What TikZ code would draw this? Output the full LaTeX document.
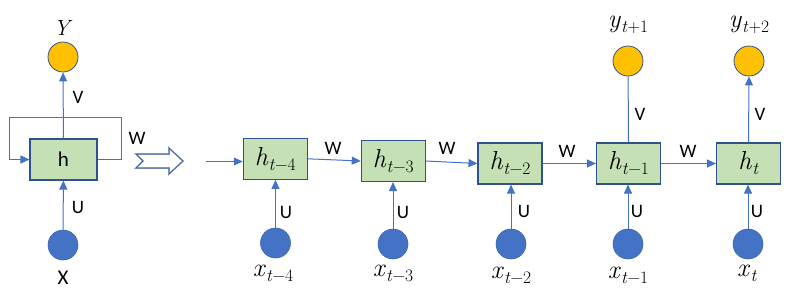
\documentclass[tikz,border=0pt]{standalone}
\usepackage{fontspec}
\newfontfamily\calib{Carlito}
\usetikzlibrary{arrows.meta}
\definecolor{boxfill}{HTML}{C5E0B4}
\definecolor{boxline}{HTML}{2F528F}
\definecolor{arr}{HTML}{4472C4}
\definecolor{orng}{HTML}{FFC000}
\definecolor{hollow}{HTML}{8EA2C8}
\newcommand{\sv}[3]{\textit{#1}\kern0.3pt\raisebox{-5pt}{\fontsize{17.5}{18}\selectfont\textit{#2}#3}}
\tikzset{
  hbox/.style={draw=boxline, fill=boxfill, line width=1.1pt, minimum width=64pt, minimum height=41pt, inner sep=0pt, font=\fontsize{26}{28}\selectfont},
  xin/.style={circle, fill=arr, draw=arr!90!black, line width=0.6pt, minimum size=30pt, inner sep=0pt},
  yout/.style={circle, fill=orng, draw=boxline, line width=0.8pt, minimum size=30pt, inner sep=0pt},
  conn/.style={draw=arr, line width=1pt},
  arw/.style={conn, -{Triangle[length=9pt,width=8pt]}},
  lab/.style={font=\calib\fontsize{19}{21}\selectfont, inner sep=0pt},
  mlab/.style={font=\fontsize{26}{28}\selectfont, inner sep=0pt}
}
\begin{document}
\begin{tikzpicture}[x=1pt,y=-1pt]
\useasboundingbox (0,0) rectangle (791,306);
% ---- folded RNN ----
\node[hbox, minimum width=67pt, font=\calib\fontsize{21}{23}\selectfont] (h) at (63.5,159.5) {h};
\node[yout] (Yc) at (63,57) {};
\node[xin] (Xc) at (63,245) {};
\node[mlab, font=\fontsize{22}{24}\selectfont] (Yl) at (63,28) {\textit{Y}};
\node[lab, font=\calib\fontsize{21}{23}\selectfont] (Xl) at (63,278) {X};
\draw[arw] (Xc) -- (h);
\draw[arw] (h) -- (Yc);
\coordinate (rt) at (121,117);
\coordinate (lt) at (9,117);
\draw[arw] (h.east) -| (rt) -- (lt) |- (h.west);
\node[lab] (lV) at (78,97) {V};
\node[lab] (lW) at (137,138) {W};
\node[lab] (lU) at (78,207) {U};
% hollow arrow
\draw[hollow, line width=1.6pt, fill=white, line join=miter]
  (136,154) -- (169,154) -- (169,148) -- (183,161) -- (169,174) -- (169,168) -- (136,168) -- (143,161) -- cycle;
\draw[boxline, line width=0.5pt, line join=miter]
  (136,154) -- (169,154) -- (169,148) -- (183,161) -- (169,174) -- (169,168) -- (136,168) -- (143,161) -- cycle;
% ---- unrolled ----
\node[hbox] (h1) at (275.3,158.8) {\sv{h}{t}{−4}};
\node[hbox] (h2) at (393.3,161) {\sv{h}{t}{−3}};
\node[hbox] (h3) at (510,163.5) {\sv{h}{t}{−2}};
\node[hbox] (h4) at (628.5,163.5) {\sv{h}{t}{−1}};
\node[hbox] (h5) at (748.5,163.5) {\sv{h}{t}{}};
\node[xin] (x1) at (275.5,243) {};
\node[xin] (x2) at (393,244) {};
\node[xin] (x3) at (511,244) {};
\node[xin] (x4) at (628,244) {};
\node[xin] (x5) at (748,244) {};
\node[mlab] (xl1) at (273,273) {\sv{x}{t}{−4}};
\node[mlab] (xl2) at (393,273) {\sv{x}{t}{−3}};
\node[mlab] (xl3) at (511,275) {\sv{x}{t}{−2}};
\node[mlab] (xl4) at (628,275) {\sv{x}{t}{−1}};
\node[mlab] (xl5) at (747,273) {\sv{x}{t}{}};
\node[yout] (y4) at (628,61) {};
\node[yout] (y5) at (749,61) {};
\node[mlab] (yl4) at (628,25) {\sv{y}{t}{+1}};
\node[mlab] (yl5) at (749,25) {\sv{y}{t}{+2}};
\coordinate (in) at (206,161.5);
\draw[arw] (in) -- (in -| h1.west);
\draw[arw] (h1.east) -- (h2.west);
\draw[arw] (h2.east) -- (h3.west);
\draw[arw] (h3.east) -- (h4.west);
\draw[arw] (h4.east) -- (h5.west);
\foreach \i in {1,...,5} { \draw[arw] (x\i) -- (x\i |- h\i.south); }
\draw[conn] (h4.north) -- (y4);
\draw[arw] (h5.north) -- (y5 |- y5.south);
\node[lab] (W1) at (333,148) {W};
\node[lab] (W2) at (447,148) {W};
\node[lab] (W3) at (567,151) {W};
\node[lab] (W4) at (688,151) {W};
\node[lab] (V4) at (640,114) {V};
\node[lab] (V5) at (760,114) {V};
\node[lab] (U1) at (286,212) {U};
\node[lab] (U2) at (403,212) {U};
\node[lab] (U3) at (524,211) {U};
\node[lab] (U4) at (637,211) {U};
\node[lab] (U5) at (757,211) {U};
\end{tikzpicture}
\end{document}
